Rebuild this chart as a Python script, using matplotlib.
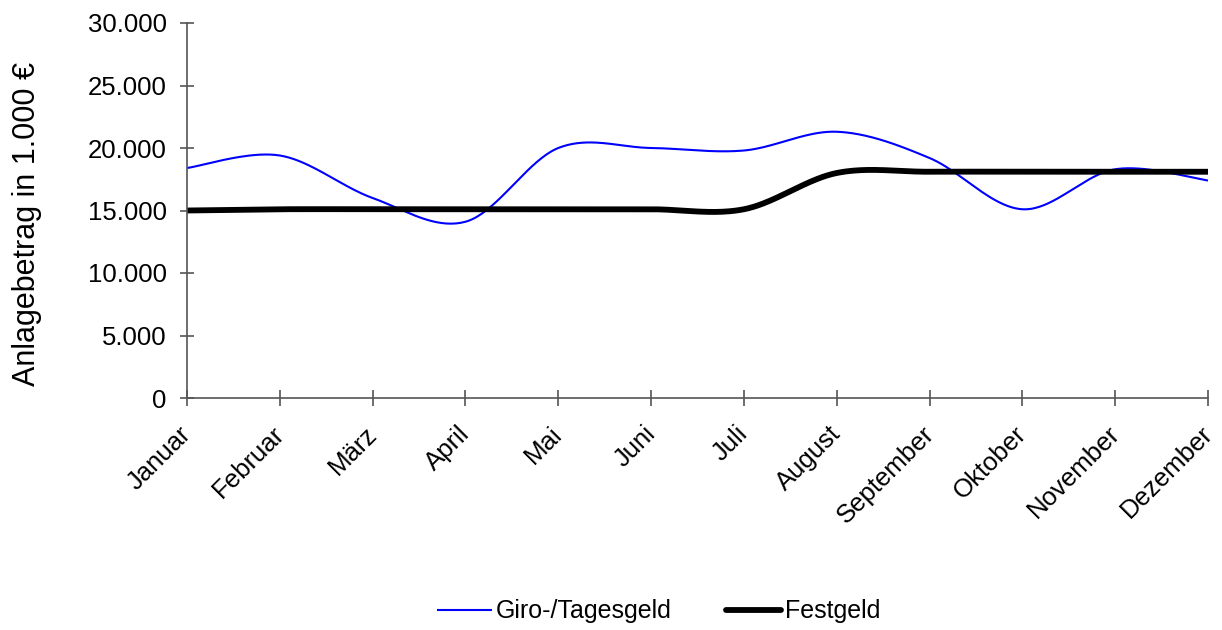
import numpy as np
import matplotlib
matplotlib.use('Agg')
import matplotlib.pyplot as plt
import matplotlib.transforms as mtransforms
from matplotlib.ticker import FuncFormatter

plt.rcParams['font.family'] = ['Liberation Sans', 'DejaVu Sans']

months = ["Januar", "Februar", "März", "April", "Mai", "Juni", "Juli",
          "August", "September", "Oktober", "November", "Dezember"]
giro = [18400, 19400, 16000, 14100, 20000, 20000, 19800, 21300, 19200, 15100, 18300, 17400]
festgeld = [15000, 15100, 15100, 15100, 15100, 15100, 15100, 18000, 18100, 18100, 18100, 18100]


def smooth(ys, steps=40):
    # Catmull-Rom style curve through the points (like a smoothed office line chart)
    xs = np.arange(len(ys), dtype=float)
    ys = np.asarray(ys, dtype=float)
    px = np.concatenate([[xs[0]], xs, [xs[-1]]])
    py = np.concatenate([[ys[0]], ys, [ys[-1]]])
    out_x, out_y = [], []
    t = np.linspace(0, 1, steps)
    for i in range(1, len(px) - 2):
        p0 = np.array([px[i], py[i]])
        p3 = np.array([px[i + 1], py[i + 1]])
        c1 = p0 + (np.array([px[i + 1], py[i + 1]]) - np.array([px[i - 1], py[i - 1]])) / 6
        c2 = p3 - (np.array([px[i + 2], py[i + 2]]) - np.array([px[i], py[i]])) / 6
        b = ((1 - t) ** 3)[:, None] * p0 + (3 * (1 - t) ** 2 * t)[:, None] * c1 \
            + (3 * (1 - t) * t ** 2)[:, None] * c2 + (t ** 3)[:, None] * p3
        out_x.extend(b[:, 0])
        out_y.extend(b[:, 1])
    return np.array(out_x), np.array(out_y)


fig = plt.figure(figsize=(12.22, 6.30), dpi=100)
ax = fig.add_axes([187 / 1222, 1 - 398 / 630, (1208 - 187) / 1222, (398 - 23) / 630])

gx, gy = smooth(giro)
fx, fy = smooth(festgeld)
ax.plot(gx, gy, color='#0000ff', lw=1.5, label='Giro-/Tagesgeld', solid_capstyle='butt')
ax.plot(fx, fy, color='black', lw=4.2, label='Festgeld', solid_capstyle='round')

ax.set_xlim(0, len(months) - 1)
ax.set_ylim(0, 30000)
ax.set_yticks(np.arange(0, 30001, 5000))
ax.yaxis.set_major_formatter(FuncFormatter(lambda v, p: f"{int(v):,}".replace(",", ".")))
ax.set_xticks(range(len(months)))
ax.set_xticklabels(months, rotation=45, ha='right', rotation_mode='anchor')

axis_col = '#555555'
for s in ['top', 'right']:
    ax.spines[s].set_visible(False)
for s in ['left', 'bottom']:
    ax.spines[s].set_color(axis_col)
    ax.spines[s].set_linewidth(1.2)
    ax.spines[s].set_clip_on(False)

ax.tick_params(axis='y', direction='inout', length=9.5, width=1.2, color=axis_col,
               labelsize=18.5, pad=10)
ax.tick_params(axis='x', direction='inout', length=11, width=1.2, color=axis_col,
               labelsize=18.5, pad=8)

# nudge the rotated month names so their ends sit under the ticks
shift = mtransforms.ScaledTranslation(-0.08, -0.05, fig.dpi_scale_trans)
for lbl in ax.get_xticklabels():
    lbl.set_transform(lbl.get_transform() + shift)

ax.set_ylabel("Anlagebetrag in 1.000 €", fontsize=22)
ax.yaxis.set_label_coords(-0.142, 0.464)

leg = fig.legend(loc='lower center', bbox_to_anchor=(0.539, -0.025), ncol=2, frameon=False,
                 fontsize=18, handlelength=2.2, handletextpad=0.15, columnspacing=2.2)

fig.savefig("out.png", dpi=100)
